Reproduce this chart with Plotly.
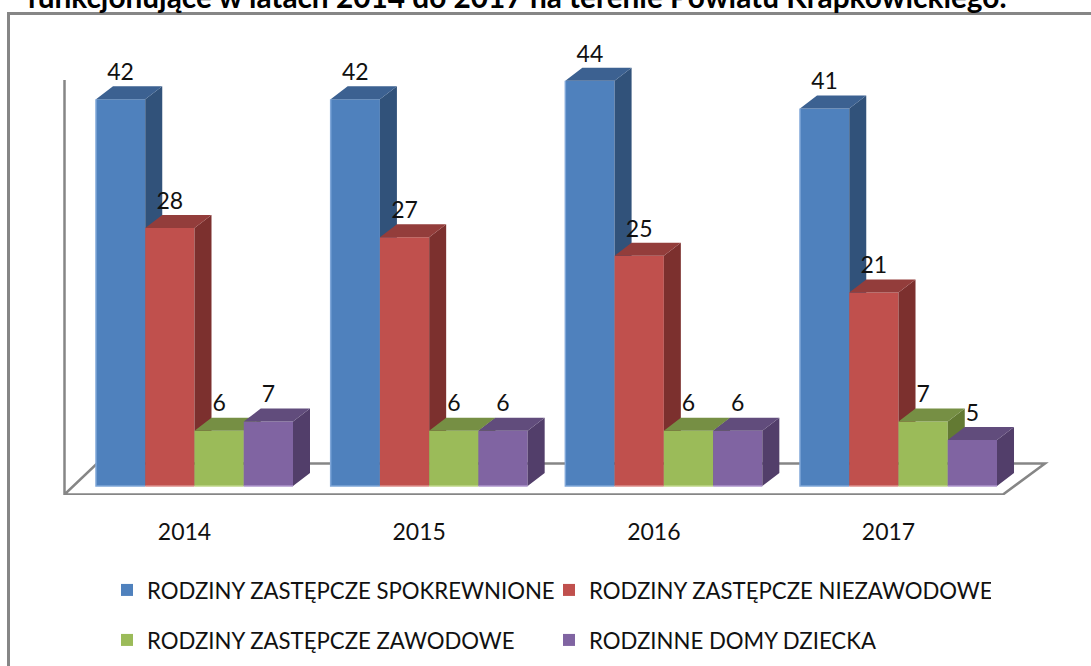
import plotly.graph_objects as go

# ---------- data ----------
years = ["2014", "2015", "2016", "2017"]
series_names = [
    "RODZINY ZASTĘPCZE SPOKREWNIONE",
    "RODZINY ZASTĘPCZE NIEZAWODOWE",
    "RODZINY ZASTĘPCZE ZAWODOWE",
    "RODZINNE DOMY DZIECKA",
]
spokrewnione = [42, 42, 44, 41]
niezawodowe = [28, 27, 25, 21]
zawodowe = [6, 6, 6, 7]
domy = [7, 6, 6, 5]
title_text = "funkcjonujące w latach 2014 do 2017 na terenie Powiatu Krapkowickiego."

all_values = [spokrewnione, niezawodowe, zawodowe, domy]
front_colors = ["#4F81BD", "#C0504D", "#9BBB59", "#8064A2"]
side_colors = ["#31527A", "#7C302E", "#637A33", "#523E6A"]
top_colors = ["#3C6191", "#933D3B", "#768F44", "#614C7C"]
edge_colors = ["#7FA6D8", "#DC8F8C", "#BFD68A", "#AE96CC"]

# ---------- geometry (pixels of the 1091x666 canvas) ----------
W, H = 1091, 666
BOTTOM = 495            # lower edge of plot area
BASE_PX = 486           # value 0
PX_PER_VALUE = 9.21
GROUP_PX = 234.67
GROUP0_PX = 194.5
BAR_PX = 49.25
DEPTH_X_PX, DEPTH_Y_PX = 17, 13
FRAME = "#868686"

xr = [-GROUP0_PX / GROUP_PX, (W - GROUP0_PX) / GROUP_PX]
yr = [(BASE_PX - BOTTOM) / PX_PER_VALUE, BASE_PX / PX_PER_VALUE]
bw = BAR_PX / GROUP_PX
dx = DEPTH_X_PX / GROUP_PX
dy = DEPTH_Y_PX / PX_PER_VALUE
groups = list(range(len(years)))


def X(px):
    return (px - GROUP0_PX) / GROUP_PX


def Y(px):
    return (BASE_PX - px) / PX_PER_VALUE


fig = go.Figure()

for s, vals in enumerate(all_values):
    suffix = "" if s == 0 else str(s + 1)
    xa, ya = "x" + suffix, "y" + suffix
    offset = (s - 1.5) * bw
    centers = [g + offset for g in groups]
    fig.add_trace(go.Bar(
        x=centers, y=vals, width=bw, name=series_names[s],
        marker=dict(color=front_colors[s], line=dict(width=0)),
        xaxis=xa, yaxis=ya,
        legend="legend" if s < 2 else "legend2",
        hovertemplate="%{y}<extra>" + series_names[s] + "</extra>",
    ))
    side_x, side_y, top_x, top_y, edge_x, edge_y = [], [], [], [], [], []
    for c, v in zip(centers, vals):
        l, r = c - bw / 2, c + bw / 2
        side_x += [r, r + dx, r + dx, r, r, None]
        side_y += [v, v + dy, dy, 0, v, None]
        top_x += [l, l + dx, r + dx, r, l, None]
        top_y += [v, v + dy, v + dy, v, v, None]
        if s == 0:
            edge_x += [l, l, r, None]
            edge_y += [v, 0, 0, None]
        else:
            edge_x += [l, r, None]
            edge_y += [0, 0, None]
    for px_, py_, col in ((side_x, side_y, side_colors[s]), (top_x, top_y, top_colors[s])):
        fig.add_trace(go.Scatter(
            x=px_, y=py_, mode="lines", fill="toself", fillcolor=col,
            line=dict(width=0, color=col), showlegend=False, hoverinfo="skip",
            xaxis=xa, yaxis=ya,
        ))
    fig.add_trace(go.Scatter(
        x=edge_x, y=edge_y, mode="lines", line=dict(width=1.5, color=edge_colors[s]),
        showlegend=False, hoverinfo="skip", xaxis=xa, yaxis=ya,
    ))

# data labels on the top overlay
label_x, label_y, label_t = [], [], []
for s, vals in enumerate(all_values):
    for g, v in zip(groups, vals):
        label_x.append(g + (s - 1.5) * bw)
        label_y.append(v + 25 / PX_PER_VALUE)
        label_t.append(str(v))
fig.add_trace(go.Scatter(
    x=label_x, y=label_y, text=label_t, mode="text", textposition="middle center",
    textfont=dict(family="Lato", size=23, color="#111111"),
    showlegend=False, hoverinfo="skip", xaxis="x4", yaxis="y4", cliponaxis=False,
))

axis_off = dict(visible=False, fixedrange=True)
legend_common = dict(
    orientation="h", x=107 / W, xanchor="left", yanchor="middle",
    entrywidth=397, entrywidthmode="pixels",
    font=dict(family="Lato", size=22.2, color="#111111"),
    bgcolor="rgba(0,0,0,0)", borderwidth=0, traceorder="normal",
)
layout = dict(
    width=W, height=H,
    margin=dict(l=0, r=0, t=0, b=H - BOTTOM, pad=0, autoexpand=False),
    paper_bgcolor="white", plot_bgcolor="white",
    showlegend=True,
    title=dict(
        text="<b>" + title_text + "</b>", x=27 / W, xanchor="left", xref="container",
        y=1 - 8 / H, yref="container", yanchor="bottom",
        font=dict(family="Lato", size=29.8, color="#000000"),
        automargin=False,
    ),
    xaxis=dict(
        range=xr, showgrid=False, zeroline=False, showline=False, ticks="",
        tickmode="array", tickvals=[g - 10 / GROUP_PX for g in groups], ticktext=years,
        tickfont=dict(family="Lato", size=23, color="#111111"),
        ticklabelstandoff=21, fixedrange=True,
    ),
    yaxis=dict(range=yr, visible=False, fixedrange=True),
    legend=dict(y=1 - 590 / BOTTOM, **legend_common),
    legend2=dict(y=1 - 640 / BOTTOM, **legend_common),
    shapes=[
        # outer frame: left and top edges only
        dict(type="line", xref="paper", yref="paper", x0=8.5 / W, x1=1, y0=1 - 13.5 / BOTTOM, y1=1 - 13.5 / BOTTOM,
             line=dict(color=FRAME, width=3), layer="below"),
        dict(type="line", xref="paper", yref="paper", x0=8.5 / W, x1=8.5 / W, y0=1 - H / BOTTOM, y1=1 - 12 / BOTTOM,
             line=dict(color=FRAME, width=3), layer="below"),
        # wall and floor of the 3-D box
        dict(type="path", xref="x", yref="y", layer="below", fillcolor="rgba(0,0,0,0)",
             path=f"M {X(64.5)} {Y(80)} L {X(64.5)} {Y(494.5)} L {X(1003)} {Y(494.5)} "
                  f"L {X(1045)} {Y(463.5)} L {X(97)} {Y(463.5)} L {X(64.5)} {Y(494.5)}",
             line=dict(color=FRAME, width=2.5)),
    ],
)
for i in (2, 3, 4):
    layout[f"xaxis{i}"] = dict(range=xr, overlaying="x", **axis_off)
    layout[f"yaxis{i}"] = dict(range=yr, overlaying="y", **axis_off)
fig.update_layout(**layout)

fig.write_html("out.html", config=dict(displayModeBar=False),
               post_script="document.body.style.margin='0';")
